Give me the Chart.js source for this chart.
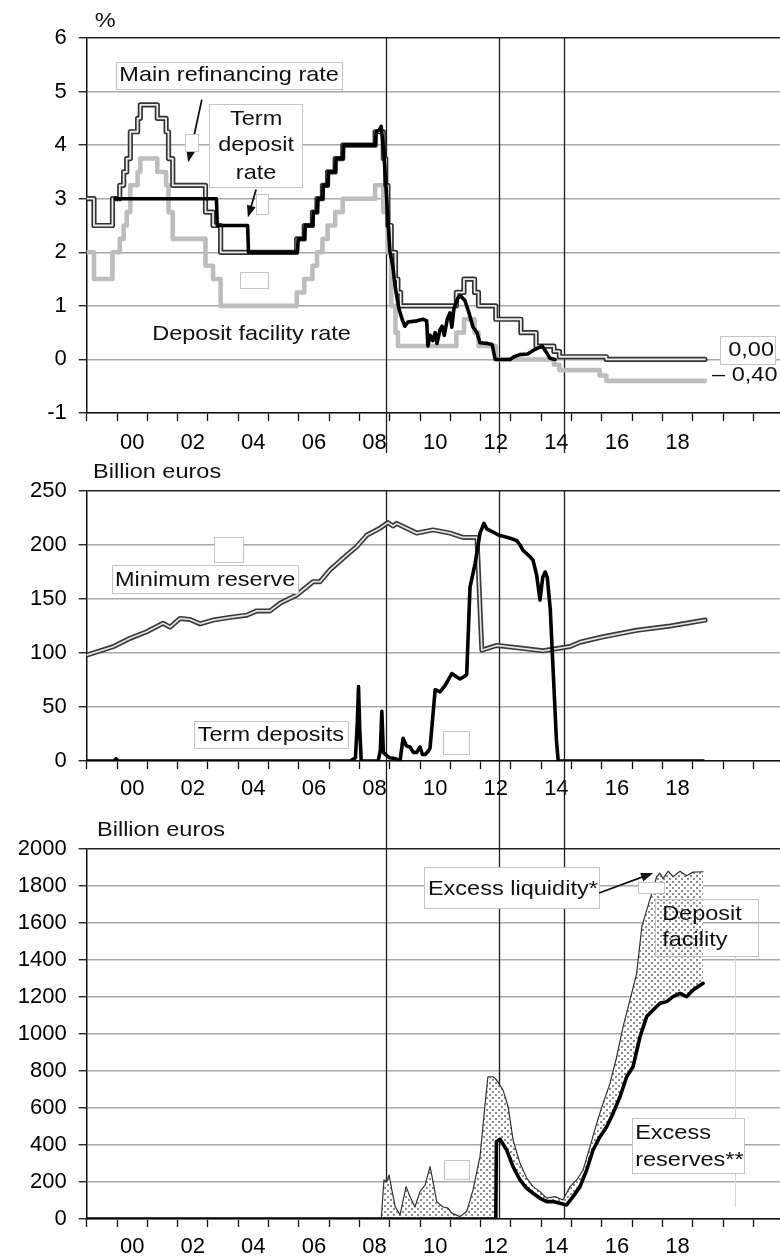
<!DOCTYPE html>
<html>
<head>
<meta charset="utf-8">
<script src="https://cdn.jsdelivr.net/npm/chart.js@4.4.1/dist/chart.umd.min.js"></script>
<style>
  html, body { margin: 0; padding: 0; background: #fff; }
  canvas { display: block; }
</style>
</head>
<body>
<canvas id="rates" width="780" height="460" style="width:780px;height:460px"></canvas>
<canvas id="reserve" width="780" height="355" style="width:780px;height:355px"></canvas>
<canvas id="liquidity" width="780" height="445" style="width:780px;height:445px"></canvas>
<script>
// ---- data (decimal years) ----
const EVENT_YEARS = [2008.89, 2012.61, 2014.76];

const MRO_X = [1999.0, 1999.24, 1999.85, 2000.09, 2000.22, 2000.32, 2000.44, 2000.68, 2000.77, 2001.33, 2001.62, 2001.7, 2001.84, 2002.92, 2003.17, 2003.42, 2005.93, 2006.18, 2006.45, 2006.6, 2006.78, 2006.95, 2007.2, 2007.45, 2008.52, 2008.79, 2008.87, 2008.94, 2009.05, 2009.19, 2009.27, 2009.36, 2011.2, 2011.45, 2011.8, 2011.93, 2012.5, 2013.33, 2013.83, 2014.42, 2014.6, 2016.15, 2019.4];
const MRO_Y = [3.0, 2.5, 3.0, 3.25, 3.5, 3.75, 4.25, 4.5, 4.75, 4.5, 4.25, 3.75, 3.25, 2.75, 2.5, 2.0, 2.25, 2.5, 2.75, 3.0, 3.25, 3.5, 3.75, 4.0, 4.25, 3.75, 3.25, 2.5, 2.0, 1.5, 1.25, 1.0, 1.25, 1.5, 1.25, 1.0, 0.75, 0.5, 0.25, 0.15, 0.05, 0.0, 0.0];

const DFR_X = [1999.0, 1999.24, 1999.85, 2000.09, 2000.22, 2000.32, 2000.44, 2000.68, 2000.77, 2001.33, 2001.62, 2001.7, 2001.84, 2002.92, 2003.17, 2003.42, 2005.93, 2006.18, 2006.45, 2006.6, 2006.78, 2006.95, 2007.2, 2007.45, 2008.52, 2008.79, 2008.94, 2009.05, 2009.19, 2009.27, 2011.2, 2011.45, 2011.8, 2011.93, 2012.5, 2014.42, 2014.6, 2015.93, 2016.15, 2019.4];
const DFR_Y = [2.0, 1.5, 2.0, 2.25, 2.5, 2.75, 3.25, 3.5, 3.75, 3.5, 3.25, 2.75, 2.25, 1.75, 1.5, 1.0, 1.25, 1.5, 1.75, 2.0, 2.25, 2.5, 2.75, 3.0, 3.25, 2.75, 2.0, 1.0, 0.5, 0.25, 0.5, 0.75, 0.5, 0.25, 0.0, -0.1, -0.2, -0.3, -0.4, -0.4];

const TDR_X = [1999.93, 2003.28, 2003.31, 2004.31, 2004.34, 2005.95, 2005.98, 2006.18, 2006.21, 2006.45, 2006.48, 2006.6, 2006.63, 2006.78, 2006.81, 2006.95, 2006.98, 2007.2, 2007.23, 2007.45, 2007.48, 2008.52, 2008.55, 2008.65, 2008.72, 2008.8, 2008.87, 2008.94, 2009.01, 2009.1, 2009.18, 2009.3, 2009.41, 2009.5, 2009.6, 2009.9, 2010.1, 2010.22, 2010.26, 2010.33, 2010.42, 2010.5, 2010.56, 2010.66, 2010.73, 2010.8, 2010.9, 2010.99, 2011.05, 2011.12, 2011.25, 2011.35, 2011.48, 2011.6, 2011.75, 2011.88, 2011.98, 2012.2, 2012.38, 2012.48, 2012.97, 2013.1, 2013.3, 2013.55, 2013.8, 2014.03, 2014.15, 2014.29, 2014.46];
const TDR_Y = [3.0, 3.0, 2.5, 2.5, 2.0, 2.0, 2.25, 2.25, 2.5, 2.5, 2.75, 2.75, 3.0, 3.0, 3.25, 3.25, 3.5, 3.5, 3.75, 3.75, 4.0, 4.0, 4.25, 4.28, 4.35, 3.9, 3.3, 2.6, 2.0, 1.75, 1.36, 0.95, 0.75, 0.62, 0.7, 0.72, 0.75, 0.72, 0.25, 0.45, 0.35, 0.5, 0.3, 0.55, 0.62, 0.45, 0.75, 0.87, 0.6, 0.95, 1.15, 1.18, 1.1, 0.9, 0.6, 0.5, 0.31, 0.3, 0.28, 0.0, 0.0, 0.05, 0.09, 0.1, 0.19, 0.25, 0.15, 0.02, 0.0];

const MINRES_X = [1999.0, 1999.87, 2000.43, 2000.98, 2001.52, 2001.75, 2002.08, 2002.41, 2002.74, 2003.17, 2003.73, 2004.28, 2004.61, 2005.05, 2005.38, 2005.93, 2006.47, 2006.70, 2007.03, 2007.58, 2007.91, 2008.24, 2008.68, 2008.94, 2009.11, 2009.23, 2009.89, 2010.43, 2010.99, 2011.42, 2011.88, 2012.04, 2012.53, 2013.30, 2014.06, 2014.95, 2015.28, 2016.04, 2017.15, 2018.26, 2019.41];
const MINRES_Y = [98, 105.8, 113.6, 119.7, 127.5, 124, 132, 131, 127, 130.5, 133, 135, 139, 139, 146, 153.7, 166, 166, 177, 190.7, 198.5, 209, 215.6, 220.7, 217.6, 220, 211, 214, 211, 207, 207, 102.6, 107, 104.6, 102, 106, 110, 115, 121, 125, 130.5];

const TERMDEP_X = [1999.0, 1999.9, 1999.97, 2000.05, 2007.7, 2007.87, 2007.93, 2007.97, 2008.01, 2008.06, 2008.62, 2008.69, 2008.74, 2008.79, 2008.9, 2009.0, 2009.2, 2009.34, 2009.44, 2009.55, 2009.67, 2009.78, 2009.89, 2010.0, 2010.08, 2010.17, 2010.27, 2010.33, 2010.5, 2010.66, 2010.83, 2011.05, 2011.2, 2011.32, 2011.45, 2011.54, 2011.65, 2011.82, 2011.98, 2012.11, 2012.2, 2012.41, 2012.6, 2012.74, 2013.0, 2013.19, 2013.3, 2013.4, 2013.6, 2013.73, 2013.85, 2013.96, 2014.05, 2014.13, 2014.2, 2014.3, 2014.4, 2014.5, 2014.56, 2019.35];
const TERMDEP_Y = [0, 0, 2, 0, 0, 3, 35, 69, 30, 0, 0, 10, 46, 8, 5, 3, 2, 0, 21, 14, 13, 8, 8, 13, 6, 6, 9, 12, 66, 64, 70, 81, 78, 76, 78, 80, 161, 183, 211, 220, 215, 212, 209, 208, 206, 204, 200, 195, 190, 186, 172, 149, 170, 175, 170, 140, 80, 20, 0, 0];

const EXLIQ_X = [1999.0, 2008.72, 2008.81, 2008.9, 2008.98, 2009.07, 2009.18, 2009.34, 2009.54, 2009.67, 2009.83, 2010.0, 2010.17, 2010.33, 2010.44, 2010.55, 2010.76, 2010.92, 2011.05, 2011.32, 2011.54, 2011.75, 2011.98, 2012.15, 2012.24, 2012.41, 2012.53, 2012.74, 2012.91, 2013.07, 2013.3, 2013.52, 2013.73, 2013.96, 2014.18, 2014.46, 2014.72, 2014.95, 2015.17, 2015.38, 2015.61, 2015.83, 2016.04, 2016.27, 2016.49, 2016.7, 2016.93, 2017.15, 2017.32, 2017.48, 2017.65, 2017.81, 2017.92, 2018.02, 2018.19, 2018.35, 2018.58, 2018.8, 2019.01, 2019.34];
const EXLIQ_Y = [0, 0, 211, 200, 238, 157, 67, 22, 175, 121, 65, 148, 184, 283, 194, 94, 65, 59, 32, 13, 40, 157, 337, 625, 769, 769, 751, 697, 607, 427, 301, 221, 175, 148, 113, 121, 103, 175, 211, 265, 391, 517, 625, 733, 877, 1039, 1184, 1328, 1580, 1670, 1760, 1850, 1869, 1840, 1880, 1850, 1880, 1855, 1875, 1877];

const EXRES_X = [1999.0, 2012.5, 2012.52, 2012.64, 2012.86, 2013.07, 2013.3, 2013.52, 2013.73, 2013.96, 2014.18, 2014.39, 2014.62, 2014.84, 2015.05, 2015.28, 2015.5, 2015.71, 2015.94, 2016.16, 2016.37, 2016.6, 2016.82, 2017.03, 2017.26, 2017.48, 2017.69, 2017.92, 2018.14, 2018.35, 2018.58, 2018.8, 2019.01, 2019.34];
const EXRES_Y = [0, 0, 418, 431, 373, 283, 211, 166, 139, 112, 94, 94, 85, 76, 121, 175, 265, 373, 445, 499, 571, 661, 769, 823, 985, 1094, 1130, 1166, 1175, 1202, 1220, 1202, 1238, 1274];

// ---- helpers ----
const FAMILY = "'Liberation Sans', Arial, Helvetica, sans-serif";
const TICK_FONT = { family: FAMILY, size: 22 };
const SX = 1.12; // the source text is drawn a little wide

const pts = (xs, ys) => xs.map((x, i) => ({ x: x, y: ys[i] }));

function xAxis(height, pad) {
  return {
    type: 'linear', min: 1999, max: 2021.88,
    afterBuildTicks: s => {
      const t = [];
      for (let y = 1999; y <= 2021; y++) { t.push({ value: y }); t.push({ value: y + 0.5 }); }
      s.ticks = t;
    },
    afterFit: s => { s.height = height; },
    ticks: {
      autoSkip: false, maxRotation: 0, padding: pad, color: '#000', font: TICK_FONT,
      callback: v => {
        const y = Math.floor(v);
        return (v - y === 0.5 && y % 2 === 0 && y <= 2018) ? String(y).slice(2) : '';
      }
    },
    grid: {
      drawOnChartArea: false, tickLength: 8, tickWidth: 1.3,
      tickColor: c => (c.tick && c.tick.value % 1 === 0) ? '#111' : 'rgba(0,0,0,0)'
    },
    border: { color: '#111', width: 1.5 }
  };
}

function yAxis(min, max, step) {
  return {
    min: min, max: max,
    afterFit: s => { s.width = 86.7; },
    ticks: { stepSize: step, padding: 12, color: '#000', font: TICK_FONT, callback: v => String(v) },
    grid: {
      color: c => (c.tick && c.tick.value === max) ? '#222' : '#a8a8a8',
      lineWidth: 1.5, tickLength: 8, tickWidth: 1.3, tickColor: '#111'
    },
    border: { color: '#111', width: 1.5 }
  };
}

function P(chart, x, y) {
  return [chart.scales.x.getPixelForValue(x), chart.scales.y.getPixelForValue(y)];
}
function text(ctx, chart, s, x, y, align) {
  const [X, Y] = P(chart, x, y);
  ctx.save();
  ctx.translate(X, Y);
  ctx.scale(SX, 1);
  ctx.font = '21px ' + FAMILY;
  ctx.fillStyle = '#111';
  ctx.textAlign = align || 'center';
  ctx.textBaseline = 'middle';
  ctx.fillText(s, 0, 0);
  ctx.restore();
}
function box(ctx, chart, x0, y0, x1, y1, fill) {
  const [a, b] = P(chart, x0, y0), [c, d] = P(chart, x1, y1);
  ctx.save();
  if (fill) { ctx.fillStyle = '#fff'; ctx.fillRect(a, b, c - a, d - b); }
  ctx.strokeStyle = '#c4c4c4';
  ctx.lineWidth = 1;
  ctx.strokeRect(Math.round(a) + 0.5, Math.round(b) + 0.5, Math.round(c - a), Math.round(d - b));
  ctx.restore();
}
function arrow(ctx, chart, x0, y0, x1, y1) {
  const [a, b] = P(chart, x0, y0), [c, d] = P(chart, x1, y1);
  const ang = Math.atan2(d - b, c - a), L = 12, W = 4.5;
  const cs = Math.cos(ang), sn = Math.sin(ang);
  ctx.save();
  ctx.strokeStyle = '#111'; ctx.fillStyle = '#111'; ctx.lineWidth = 1.8;
  ctx.beginPath(); ctx.moveTo(a, b); ctx.lineTo(c - L * 0.8 * cs, d - L * 0.8 * sn); ctx.stroke();
  ctx.beginPath();
  ctx.moveTo(c, d);
  ctx.lineTo(c - L * cs + W * sn, d - L * sn - W * cs);
  ctx.lineTo(c - L * cs - W * sn, d - L * sn + W * cs);
  ctx.closePath(); ctx.fill();
  ctx.restore();
}

// vertical event lines, running past the plot into the label rows
function eventLines(fromTop, toBottom) {
  return {
    id: 'eventLines',
    beforeDatasetsDraw(chart) {
      const ctx = chart.ctx, a = chart.chartArea;
      const y0 = fromTop ? 0 : a.top;
      const y1 = toBottom ? chart.height - (toBottom === true ? 0 : toBottom) : a.bottom;
      ctx.save();
      ctx.strokeStyle = '#1a1a1a';
      ctx.lineWidth = 1.3;
      EVENT_YEARS.forEach(v => {
        const x = Math.round(chart.scales.x.getPixelForValue(v)) + 0.5;
        ctx.beginPath(); ctx.moveTo(x, y0); ctx.lineTo(x, y1); ctx.stroke();
      });
      ctx.restore();
    }
  };
}
function notes(fn) {
  return { id: 'notes', afterDatasetsDraw(chart) { fn(chart.ctx, chart); } };
}

function dotPattern() {
  const c = document.createElement('canvas');
  c.width = 6; c.height = 6;
  const g = c.getContext('2d');
  g.fillStyle = '#fff'; g.fillRect(0, 0, 6, 6);
  g.fillStyle = '#8e8e8e';
  g.fillRect(0, 0, 2, 2); g.fillRect(3, 3, 2, 2);
  return g.createPattern(c, 'repeat');
}

const common = {
  responsive: false, maintainAspectRatio: false, animation: false, devicePixelRatio: 1,
  elements: { point: { radius: 0 }, line: { borderJoinStyle: 'round', borderCapStyle: 'round', tension: 0 } },
  plugins: { legend: { display: false }, tooltip: { enabled: false } }
};

// ---- panel 1: interest rates ----
new Chart(document.getElementById('rates'), {
  type: 'line',
  data: {
    datasets: [
      { data: pts(TDR_X, TDR_Y), borderColor: '#000', borderWidth: 3.6, order: 0 },
      { data: pts(MRO_X, MRO_Y), stepped: true, borderColor: '#ececec', borderWidth: 1.8, order: 1 },
      { data: pts(MRO_X, MRO_Y), stepped: true, borderColor: '#333', borderWidth: 5.2, order: 2 },
      { data: pts(DFR_X, DFR_Y), stepped: true, borderColor: '#bdbdbd', borderWidth: 4.6, order: 3 }
    ]
  },
  options: Object.assign({}, common, {
    layout: { padding: { top: 38, right: 0, bottom: 0, left: 0 } },
    scales: { x: xAxis(47, 9), y: yAxis(-1, 6, 1) }
  }),
  plugins: [eventLines(false, 7), notes((ctx, c) => {
    text(ctx, c, '%', 1999.61, 6.31);
    box(ctx, c, 1999.97, 5.56, 2007.43, 5.06, true);
    text(ctx, c, 'Main refinancing rate', 2003.70, 5.30);
    arrow(ctx, c, 2002.80, 4.85, 2002.35, 3.68);
    box(ctx, c, 2003.04, 4.76, 2006.11, 3.21, true);
    text(ctx, c, 'Term', 2004.59, 4.48);
    text(ctx, c, 'deposit', 2004.59, 3.99);
    text(ctx, c, 'rate', 2004.59, 3.47);
    arrow(ctx, c, 2004.59, 3.17, 2004.32, 2.65);
    box(ctx, c, 2002.24, 4.20, 2002.67, 3.88, true);
    box(ctx, c, 2004.59, 3.08, 2004.99, 2.71, true);
    box(ctx, c, 2004.06, 1.64, 2004.99, 1.34, true);
    text(ctx, c, 'Deposit facility rate', 2001.16, 0.47, 'left');
    box(ctx, c, 2019.9, 0.43, 2021.72, -0.09, true);
    text(ctx, c, '0,00', 2020.17, 0.17, 'left');
    text(ctx, c, '\u2013 0,40', 2019.64, -0.3, 'left');
  })]
});

// ---- panel 2: minimum reserve and term deposits ----
new Chart(document.getElementById('reserve'), {
  type: 'line',
  data: {
    datasets: [
      { data: pts(TERMDEP_X, TERMDEP_Y), borderColor: '#000', borderWidth: 3.6, order: 0 },
      { data: pts(MINRES_X, MINRES_Y), borderColor: '#e4e4e4', borderWidth: 1.7, order: 1 },
      { data: pts(MINRES_X, MINRES_Y), borderColor: '#3a3a3a', borderWidth: 5, order: 2 }
    ]
  },
  options: Object.assign({}, common, {
    layout: { padding: { top: 31, right: 0, bottom: 0, left: 0 } },
    scales: { x: xAxis(54, 7), y: yAxis(0, 250, 50) }
  }),
  plugins: [eventLines(false, true), notes((ctx, c) => {
    text(ctx, c, 'Billion euros', 1999.21, 267.6, 'left');
    box(ctx, c, 2003.21, 207.4, 2004.17, 184.3, true);
    box(ctx, c, 1999.84, 181.5, 2005.98, 155.6, true);
    text(ctx, c, 'Minimum reserve', 2002.91, 167.6);
    box(ctx, c, 2002.55, 37.0, 2007.63, 12.0, true);
    text(ctx, c, 'Term deposits', 2005.08, 24.1);
    box(ctx, c, 2010.76, 27.8, 2011.62, 6.5, true);
  })]
});

// ---- panel 3: excess liquidity ----
new Chart(document.getElementById('liquidity'), {
  type: 'line',
  data: {
    datasets: [
      { data: pts(EXLIQ_X, EXLIQ_Y), borderColor: '#333', borderWidth: 1.2, fill: 1, backgroundColor: dotPattern(), order: 1 },
      { data: pts(EXRES_X, EXRES_Y), borderColor: '#000', borderWidth: 3.6, order: 0 }
    ]
  },
  options: Object.assign({}, common, {
    layout: { padding: { top: 34, right: 0, bottom: 0, left: 0 } },
    scales: { x: xAxis(41, 7), y: yAxis(0, 2000, 200) }
  }),
  plugins: [eventLines(true, false), notes((ctx, c) => {
    text(ctx, c, 'Billion euros', 1999.34, 2103, 'left');
    box(ctx, c, 2010.13, 1903, 2015.91, 1681, true);
    text(ctx, c, 'Excess liquidity*', 2010.26, 1784, 'left');
    box(ctx, c, 2017.21, 1822, 2018.07, 1762, true);
    arrow(ctx, c, 2015.91, 1762, 2017.69, 1870);
    box(ctx, c, 2017.76, 1730, 2021.16, 1422, false);
    text(ctx, c, 'Deposit', 2017.99, 1649, 'left');
    text(ctx, c, 'facility', 2017.99, 1508, 'left');
    const [lx, ly0] = P(c, 2020.4, 1416), [, ly1] = P(c, 2020.4, 65);
    ctx.save(); ctx.strokeStyle = '#d4d4d4'; ctx.lineWidth = 1;
    ctx.beginPath(); ctx.moveTo(Math.round(lx) + 0.5, ly0); ctx.lineTo(Math.round(lx) + 0.5, ly1); ctx.stroke();
    ctx.restore();
    box(ctx, c, 2017.0, 546, 2020.7, 249, true);
    text(ctx, c, 'Excess', 2017.1, 465, 'left');
    text(ctx, c, 'reserves**', 2017.1, 319, 'left');
    box(ctx, c, 2010.8, 319, 2011.62, 216, true);
  })]
});
</script>
</body>
</html>
